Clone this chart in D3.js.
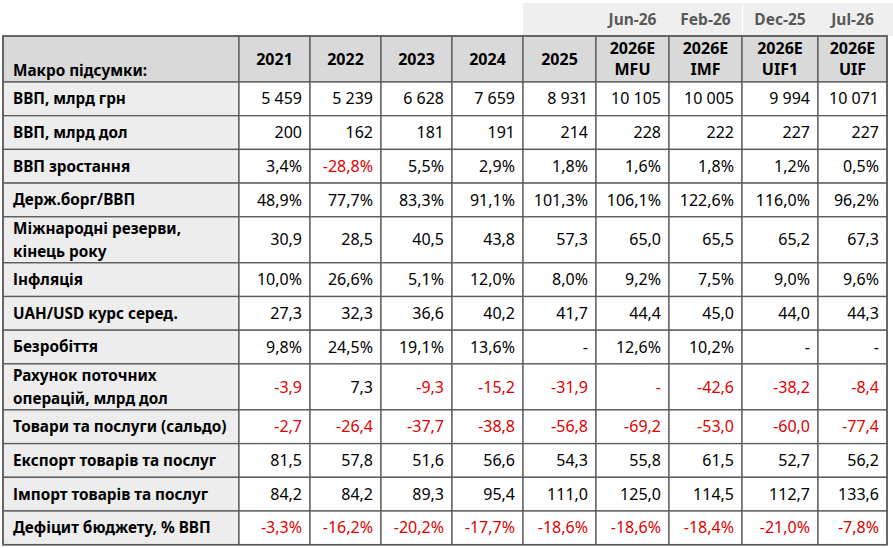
<!DOCTYPE html>
<html>
<head>
<meta charset="utf-8">
<script src="https://cdn.jsdelivr.net/npm/d3@7"></script>
<style>
  body { margin: 0; background: #fff; }
  svg { display: block; font-family: "Noto Sans", "Open Sans", sans-serif; }
</style>
</head>
<body>
<svg id="chart" width="893" height="548"></svg>
<script>
// ---- data ----
var sources = ["", "", "", "", "", "Jun-26", "Feb-26", "Dec-25", "Jul-26"];
var columns = ["2021", "2022", "2023", "2024", "2025", "2026E\nMFU", "2026E\nIMF", "2026E\nUIF1", "2026E\nUIF"];
var cornerLabel = "Макро підсумки:";

var rowLabels = [
  "ВВП, млрд грн",
  "ВВП, млрд дол",
  "ВВП зростання",
  "Держ.борг/ВВП",
  "Міжнародні резерви,\nкінець року",
  "Інфляція",
  "UAH/USD курс серед.",
  "Безробіття",
  "Рахунок поточних\nоперацій, млрд дол",
  "Товари та послуги (сальдо)",
  "Експорт товарів та послуг",
  "Імпорт товарів та послуг",
  "Дефіцит бюджету, % ВВП"
];
var rowFormats = ["int", "int", "pct", "pct", "dec", "pct", "dec", "pct", "dec", "dec", "dec", "dec", "pct"];

var gdpUah      = [5459, 5239, 6628, 7659, 8931, 10105, 10005, 9994, 10071];
var gdpUsd      = [200, 162, 181, 191, 214, 228, 222, 227, 227];
var gdpGrowth   = [3.4, -28.8, 5.5, 2.9, 1.8, 1.6, 1.8, 1.2, 0.5];
var debtToGdp   = [48.9, 77.7, 83.3, 91.1, 101.3, 106.1, 122.6, 116.0, 96.2];
var reserves    = [30.9, 28.5, 40.5, 43.8, 57.3, 65.0, 65.5, 65.2, 67.3];
var inflation   = [10.0, 26.6, 5.1, 12.0, 8.0, 9.2, 7.5, 9.0, 9.6];
var uahUsd      = [27.3, 32.3, 36.6, 40.2, 41.7, 44.4, 45.0, 44.0, 44.3];
var unemploy    = [9.8, 24.5, 19.1, 13.6, null, 12.6, 10.2, null, null];
var currAccount = [-3.9, 7.3, -9.3, -15.2, -31.9, null, -42.6, -38.2, -8.4];
var tradeBal    = [-2.7, -26.4, -37.7, -38.8, -56.8, -69.2, -53.0, -60.0, -77.4];
var exportsGS   = [81.5, 57.8, 51.6, 56.6, 54.3, 55.8, 61.5, 52.7, 56.2];
var importsGS   = [84.2, 84.2, 89.3, 95.4, 111.0, 125.0, 114.5, 112.7, 133.6];
var budgetDef   = [-3.3, -16.2, -20.2, -17.7, -18.6, -18.6, -18.4, -21.0, -7.8];

var values = [gdpUah, gdpUsd, gdpGrowth, debtToGdp, reserves, inflation, uahUsd,
              unemploy, currAccount, tradeBal, exportsGS, importsGS, budgetDef];
// missing cells that are shown in red ([row, column])
var redDashes = [[8, 5]];

// ---- layout ----
var left = 3, labelW = 236;
var colW = [71, 71, 71, 71, 73, 73, 73, 76, 69];
var bandTop = 3, headTop = 36, headH = 46, tallH = 46, rowH = 33.7;
var lineGap = 21;
var red = "#e00000", ink = "#000", grid = "#5a5a5a";

var nCol = columns.length, nRow = rowLabels.length;
var colEdges = Array.from(d3.cumsum([left + labelW].concat(colW)));   // [239, right edges...]
var xLeft = d3.scaleOrdinal().domain(d3.range(nCol)).range(colEdges.slice(0, nCol));
var xRight = d3.scaleOrdinal().domain(d3.range(nCol)).range(colEdges.slice(1));

var heights = rowLabels.map(function (l) { return l.indexOf("\n") >= 0 ? tallH : rowH; });
var rowTops = Array.from(d3.cumsum([headTop + headH].concat(heights)));
var yTop = d3.scaleOrdinal().domain(d3.range(nRow)).range(rowTops.slice(0, nRow));
var tableRight = colEdges[nCol];
var tableBottom = rowTops[nRow];

var loc = d3.formatLocale({ decimal: ",", thousands: "\u00a0", grouping: [3], currency: ["", ""], minus: "-" });
var fmt = {
  int: loc.format(",d"),
  dec: loc.format(".1f"),
  pct: function (v) { return loc.format(".1f")(v) + "%"; }
};

var svg = d3.select("#chart");

// top source band
svg.append("rect")
  .attr("x", xLeft(4)).attr("y", bandTop)
  .attr("width", xRight(6) - xLeft(4)).attr("height", headTop - bandTop)
  .attr("fill", "#efefef");
svg.append("rect")
  .attr("x", xLeft(7) + 1).attr("y", bandTop)
  .attr("width", 893 - xLeft(7) - 1).attr("height", headTop - bandTop)
  .attr("fill", "#efefef");
svg.selectAll("text.src")
  .data(sources)
  .enter().append("text")
  .attr("class", "src")
  .attr("x", function (d, i) { return (xLeft(i) + xRight(i)) / 2; })
  .attr("y", 20).attr("dy", "0.35em")
  .attr("text-anchor", "middle")
  .attr("font-size", 15.5).attr("font-weight", "bold")
  .attr("fill", "#595959")
  .text(function (d) { return d; });

// header row
var head = svg.append("g");
head.append("rect")
  .attr("x", left).attr("y", headTop)
  .attr("width", labelW).attr("height", headH)
  .attr("fill", "#d9d9d9").attr("stroke", grid).attr("stroke-width", 1.3);
head.append("text")
  .attr("x", left + 10).attr("y", headTop + headH / 2 + lineGap / 2 + 1).attr("dy", "0.35em")
  .attr("font-size", 15.3).attr("font-weight", "bold").attr("fill", ink)
  .text(cornerLabel);

var hc = head.selectAll("g.hc")
  .data(columns)
  .enter().append("g").attr("class", "hc");
hc.append("rect")
  .attr("x", function (d, i) { return xLeft(i); }).attr("y", headTop)
  .attr("width", function (d, i) { return colW[i]; }).attr("height", headH)
  .attr("fill", "#d9d9d9").attr("stroke", grid).attr("stroke-width", 1.3);
hc.each(function (d, i) {
  var lines = d.split("\n");
  var mid = headTop + headH / 2;
  d3.select(this).selectAll("text")
    .data(lines)
    .enter().append("text")
    .attr("x", (xLeft(i) + xRight(i)) / 2)
    .attr("y", function (l, k) { return mid + (k - (lines.length - 1) / 2) * lineGap; })
    .attr("dy", "0.35em")
    .attr("text-anchor", "middle")
    .attr("font-size", 16).attr("font-weight", "bold").attr("fill", ink)
    .text(function (l) { return l; });
});

// body rows
var rows = svg.selectAll("g.row")
  .data(rowLabels)
  .enter().append("g").attr("class", "row");

rows.append("rect")
  .attr("x", left).attr("y", function (d, r) { return yTop(r); })
  .attr("width", labelW).attr("height", function (d, r) { return heights[r]; })
  .attr("fill", "#ededed").attr("stroke", grid).attr("stroke-width", 1.3);

rows.each(function (label, r) {
  var g = d3.select(this);
  var mid = yTop(r) + heights[r] / 2;
  var lines = label.split("\n");
  g.selectAll("text.lab")
    .data(lines)
    .enter().append("text").attr("class", "lab")
    .attr("x", left + 10)
    .attr("y", function (l, k) { return mid + (k - (lines.length - 1) / 2) * (lineGap + 2); })
    .attr("dy", "0.35em")
    .attr("font-size", 15.3).attr("font-weight", "bold").attr("fill", ink)
    .text(function (l) { return l; });

  var cells = g.selectAll("g.cell")
    .data(values[r])
    .enter().append("g").attr("class", "cell");
  cells.append("rect")
    .attr("x", function (v, i) { return xLeft(i); }).attr("y", yTop(r))
    .attr("width", function (v, i) { return colW[i]; }).attr("height", heights[r])
    .attr("fill", "#fff").attr("stroke", grid).attr("stroke-width", 1.3);
  cells.append("text")
    .attr("x", function (v, i) { return xRight(i) - 8; })
    .attr("y", mid).attr("dy", "0.35em")
    .attr("text-anchor", "end")
    .attr("font-size", 16)
    .attr("fill", function (v, i) {
      if (v === null) return redDashes.some(function (p) { return p[0] === r && p[1] === i; }) ? red : ink;
      return v < 0 ? red : ink;
    })
    .text(function (v) { return v === null ? "-" : fmt[rowFormats[r]](v); });
});

// outer frame
svg.append("rect")
  .attr("x", left).attr("y", headTop)
  .attr("width", tableRight - left).attr("height", tableBottom - headTop)
  .attr("fill", "none").attr("stroke", grid).attr("stroke-width", 1.5);
</script>
</body>
</html>
